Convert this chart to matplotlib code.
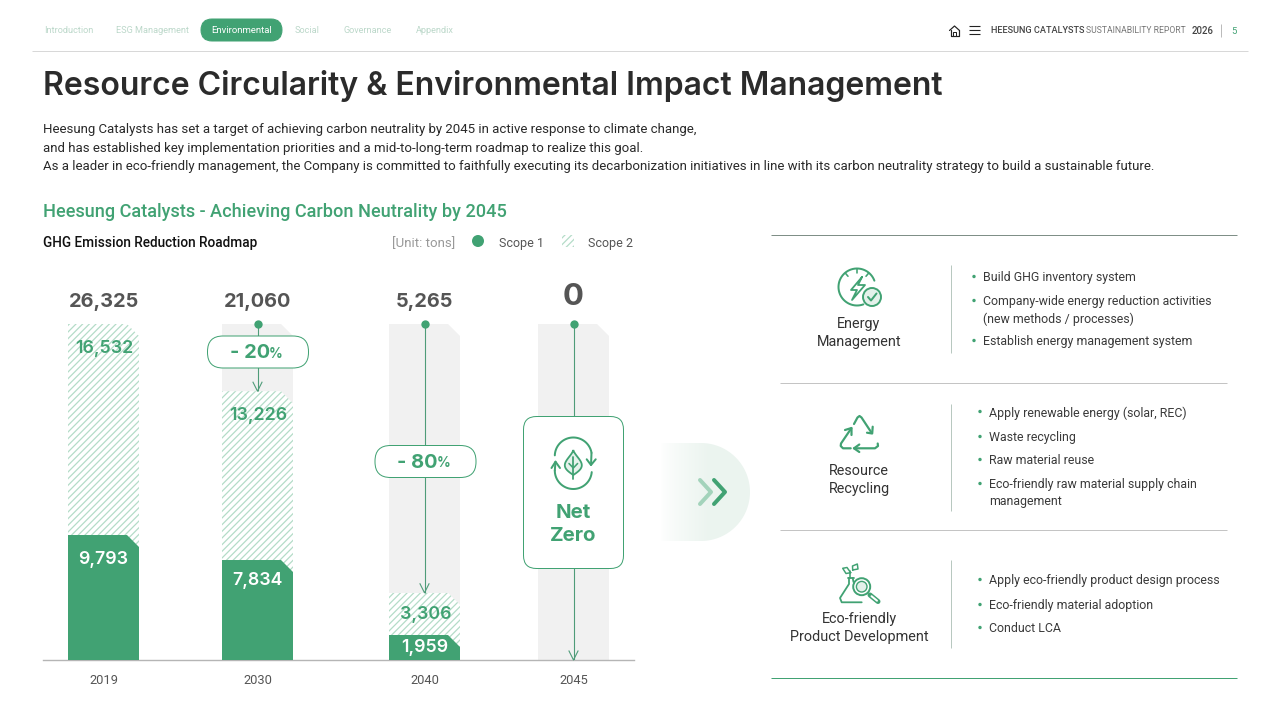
import numpy as np
import matplotlib
matplotlib.use('Agg')
import matplotlib.pyplot as plt
from matplotlib.patches import Polygon, FancyBboxPatch, Circle, Rectangle

# chart values
years = ['2019', '2030', '2040', '2045']
scope1 = [9793, 7834, 1959, 0]
scope2 = [16532, 13226, 3306, 0]
totals = [26325, 21060, 5265, 0]
reductions = [None, '- 20', '- 80', None]

nav_items = ['Introduction', 'ESG Management', 'Environmental', 'Social', 'Governance', 'Appendix']
intro_lines = [
    'Heesung Catalysts has set a target of achieving carbon neutrality by 2045 in active response to climate change,',
    'and has established key implementation priorities and a mid-to-long-term roadmap to realize this goal.',
    'As a leader in eco-friendly management, the Company is committed to faithfully executing its decarbonization initiatives in line with its carbon neutrality strategy to build a sustainable future.',
]
panel_titles = [['Energy', 'Management'], ['Resource', 'Recycling'], ['Eco-friendly', 'Product Development']]
panel_items = [
    [['Build GHG inventory system'],
     ['Company-wide energy reduction activities', '(new methods / processes)'],
     ['Establish energy management system']],
    [['Apply renewable energy (solar, REC)'],
     ['Waste recycling'],
     ['Raw material reuse'],
     ['Eco-friendly raw material supply chain', 'management']],
    [['Apply eco-friendly product design process'],
     ['Eco-friendly material adoption'],
     ['Conduct LCA']],
]

# layout, everything on the page is in pixels
GREEN = '#41a273'
LIGHT = '#b4dcc8'
DARK = '#2b2b2b'
NUM = 'Inter'
BODY = 'Roboto'
bar_x = [103.5, 257.5, 424.5, 573.5]
bar_w = 71
y_px = 336 / 26325  # pixels per ton
label_y_s2 = [347, 414, 613]
label_y_s1 = [558, 579, 646]
pill_y = [None, 352, 461.5, None]

plt.rcParams['font.family'] = [BODY, 'DejaVu Sans']
plt.rcParams['hatch.linewidth'] = 0.9

fig = plt.figure(figsize=(12.8, 7.2), dpi=100, facecolor='white')

# chart axes: x in page pixels, y in tons
ax = fig.add_axes([43 / 1280, (720 - 660) / 720, (634 - 43) / 1280, 336 / 720], zorder=1)
ax.set_xlim(43, 634)
ax.set_ylim(0, max(totals))
ax.patch.set_alpha(0)
for s in ['top', 'left', 'right']:
    ax.spines[s].set_visible(False)
ax.spines['bottom'].set_color('#b5b5b5')
ax.spines['bottom'].set_linewidth(1)
ax.set_yticks([])
ax.set_xticks(bar_x, years)
ax.tick_params(axis='x', length=0, pad=10, labelsize=9.3, labelcolor='#555555')


def cut_corner(bars, cut=12):
    # top right corner of every bar is chamfered
    for b in bars:
        x0, w, h0, h = b.get_x(), b.get_width(), b.get_y(), b.get_height()
        c = min(cut / y_px, h)
        top = h0 + h
        poly = Polygon([(x0, h0), (x0, top), (x0 + w - cut, top), (x0 + w, top - c), (x0 + w, h0)],
                       transform=ax.transData)
        b.set_clip_path(poly)


ceiling = [max(totals)] * len(years)
cut_corner(ax.bar(bar_x[1:], ceiling[1:], width=bar_w, color='#f1f1f1', linewidth=0, zorder=1))
stack = [a + b for a, b in zip(scope1, scope2)]
cut_corner(ax.bar(bar_x, stack, width=bar_w, facecolor='white', edgecolor=LIGHT, hatch='/////',
                  linewidth=0, zorder=2))
cut_corner(ax.bar(bar_x, scope1, width=bar_w, color=GREEN, linewidth=0, zorder=3))

# reduction lines from the 2019 level down to the year's total
for i in range(1, len(years)):
    ax.plot([bar_x[i], bar_x[i]], [ceiling[i], totals[i]], color='#4f9c79', lw=0.8, zorder=4,
            solid_capstyle='butt')
    ax.plot([bar_x[i]], [ceiling[i]], 'o', color=GREEN, ms=6, mew=0, zorder=5, clip_on=False)
    ax.plot([bar_x[i] - 4.5, bar_x[i], bar_x[i] + 4.5],
            [totals[i] + 9 / y_px, totals[i], totals[i] + 9 / y_px],
            color='#4f9c79', lw=0.8, zorder=4, clip_on=False)

# page overlay in pixels, y down
pg = fig.add_axes([0, 0, 1, 1], zorder=2)
pg.set_xlim(0, 1280)
pg.set_ylim(720, 0)
pg.axis('off')


def txt(x, y, s, size, color=DARK, weight='normal', ha='left', family=BODY, **kw):
    # size given in pixels
    kw.setdefault('zorder', 6)
    return pg.text(x, y - 0.7, s, fontsize=size * 0.72, color=color, fontweight=weight, ha=ha,
                   va='center_baseline', family=[family, 'DejaVu Sans'], **kw)


def line(xs, ys, color=GREEN, w=2, **kw):
    kw.setdefault('solid_capstyle', 'round')
    kw.setdefault('solid_joinstyle', 'round')
    kw.setdefault('zorder', 3)
    pg.plot(xs, ys, color=color, lw=w * 0.72, **kw)


def arc(cx, cy, r, a1, a2, color=GREEN, w=2):
    t = np.radians(np.linspace(a1, a2, 50))
    line(cx + r * np.cos(t), cy - r * np.sin(t), color, w)


def rbox(x0, y0, x1, y1, r, fc='white', ec=GREEN, w=1, z=2):
    pg.add_patch(FancyBboxPatch((x0, y0), x1 - x0, y1 - y0, boxstyle=f'round,pad=0,rounding_size={r}',
                                fc=fc, ec=ec, lw=w * 0.72, zorder=z))


# top navigation
line([32, 1248], [51, 51], '#d8d8d8', 1, solid_capstyle='butt')
rbox(201, 19, 282, 41, 11, fc=GREEN, ec=GREEN)
nav_x = [69, 153, 241.5, 307, 368, 435]
for name, x in zip(nav_items, nav_x):
    on = name == 'Environmental'
    txt(x, 30.5, name, 9.5 if on else 9.1, 'white' if on else '#bcd8ca', 'normal', 'center')

# home + menu icons
line([949.5, 954.5, 959.5], [30.5, 26, 30.5], '#222222', 1.2)
line([950.5, 950.5, 958.5, 958.5], [30, 35.5, 35.5, 30], '#222222', 1.2)
line([953, 953, 956, 956], [35.5, 32, 32, 35.5], '#222222', 1)
for y in [26, 30, 34]:
    line([969, 980], [y, y], '#222222', 1.1, solid_capstyle='butt')
txt(991, 30.5, 'HEESUNG CATALYSTS', 9.2, '#444444', 'medium')
txt(1086.5, 30.5, 'SUSTAINABILITY REPORT', 8.7, '#777777', 'normal')
txt(1191.5, 30.5, '2026', 9.6, '#444444', 'medium')
line([1221, 1221], [24, 37], '#bbbbbb', 1, solid_capstyle='butt')
txt(1234, 31, '5', 9.5, GREEN, 'normal', 'center')

# headings
txt(43, 83, 'Resource Circularity & Environmental Impact Management', 32, DARK, 'semibold', family=NUM)
for s, y in zip(intro_lines, [129, 147.5, 166]):
    txt(43, y, s, 13.3, '#2a2a2a')
txt(43, 210.5, 'Heesung Catalysts - Achieving Carbon Neutrality by 2045', 18.1, GREEN, 'medium')
txt(43, 242.5, 'GHG Emission Reduction Roadmap', 13.65, '#111111', 'medium')

# legend
txt(392, 242.5, '[Unit: tons]', 13.2, '#999999', 'normal')
pg.add_patch(Circle((478, 241), 6, fc=GREEN, ec='none'))
txt(499, 242.5, 'Scope 1', 12.5, '#555555', 'normal')
pg.add_patch(Rectangle((562, 235), 12, 12, fc='white', ec=LIGHT, hatch='/////', lw=0))
txt(588, 242.5, 'Scope 2', 12.5, '#555555', 'normal')

# value labels
for i in range(len(years)):
    if totals[i] == 0:
        txt(bar_x[i], 295, f'{totals[i]:,}', 31, '#555555', 'bold', 'center', family=NUM)
    else:
        txt(bar_x[i], 301, f'{totals[i]:,}', 20, '#555555', 'bold', 'center', family=NUM)
for i in range(3):
    txt(bar_x[i] + 1, label_y_s2[i], f'{scope2[i]:,}', 17.8, GREEN, 'semibold', 'center', family=NUM)
    txt(bar_x[i], label_y_s1[i], f'{scope1[i]:,}', 17.8, 'white', 'semibold', 'center', family=NUM)

# reduction pills
for i in range(len(years)):
    if reductions[i] is None:
        continue
    c = bar_x[i] + (0.5 if i == 1 else 1)
    rbox(c - 50.5, pill_y[i] - 16, c + 50.5, pill_y[i] + 16, 15.5)
    txt(c - 8, pill_y[i], reductions[i], 20, GREEN, 'bold', 'center', family=NUM)
    txt(c + 18, pill_y[i] + 1, '%', 13.5, GREEN, 'bold', 'center', family=NUM)

# net zero box
rbox(523.5, 416.5, 623.5, 568.5, 13)
arc(573.3, 456, 18.5, 178, 10)
line([591.5, 591], [453, 465], GREEN, 2)
line([586.7, 591, 595.7], [459.3, 465, 459.3], GREEN, 2)
arc(573.3, 470.5, 18.5, -5, -180)
line([554.8, 555.5], [470.5, 461.7], GREEN, 2)
line([551.5, 555.5, 560], [468, 461.7, 468], GREEN, 2)
t = np.linspace(0, 1, 40)
half = 8.5 * np.sin(np.pi * t ** 1.4)
lx = np.r_[573.3 - half, (573.3 + half)[::-1]]
ly = np.r_[450 + 25 * t, (450 + 25 * t)[::-1]]
pg.add_patch(Polygon(np.c_[lx, ly], fc='#e6f2ec', ec=GREEN, lw=1.3, zorder=5))
line([573.3, 573.3], [457, 478.5], GREEN, 1.8, zorder=6)
line([569, 573.3, 577.6], [463.5, 468, 463.5], GREEN, 1.6, zorder=6)
txt(573, 512, 'Net', 20.5, GREEN, 'bold', 'center', family=NUM)
txt(573, 535, 'Zero', 20.5, GREEN, 'bold', 'center', family=NUM)

# gradient arrow tab
grad = np.linspace(0, 1, 90) ** 0.8
cmap = matplotlib.colors.LinearSegmentedColormap.from_list('tab', ['#ffffff', '#ebf4ef'])
im = pg.imshow(np.tile(np.minimum(grad * 1.6, 1), (2, 1)), cmap=cmap, vmin=0, vmax=1,
               extent=(660, 750, 541, 443), aspect='auto', zorder=1)
a = np.radians(np.linspace(90, -90, 60))
tab = Polygon(np.r_[[(660, 443)], np.c_[701 + 49 * np.cos(a), 492 - 49 * np.sin(a)], [(660, 541)]],
              transform=pg.transData, fc='none', ec='none')
pg.add_patch(tab)
im.set_clip_path(tab)
pg.set_xlim(0, 1280)
pg.set_ylim(720, 0)
line([700, 711, 700], [480, 492, 504], '#a3d3bb', 4)
line([714, 725, 714], [480, 492, 504], GREEN, 4)

# right panel
line([771, 1237], [235, 235], '#7f8f87', 1, solid_capstyle='butt')
line([771, 1237], [678, 678], GREEN, 1, solid_capstyle='butt')
for y in [383, 530]:
    line([780, 1227], [y, y], '#c4c4c4', 1, solid_capstyle='butt')
for y0, y1 in [(265, 353), (404, 511), (560, 648)]:
    line([951, 951], [y0, y1], '#b8c8c0', 1, solid_capstyle='butt')

title_y = [(323, 341), (470, 488), (618, 636)]
for names, ys in zip(panel_titles, title_y):
    for s, y in zip(names, ys):
        txt(859, y, s, 14.4, '#333333', 'normal', 'center')

panel_dot_x = [974, 980, 980]
panel_y = [[[277], [301, 318], [341]],
           [[412], [437], [460], [484, 501]],
           [[580], [605], [628]]]
for items, ys, dx in zip(panel_items, panel_y, panel_dot_x):
    for rows, yy in zip(items, ys):
        pg.add_patch(Circle((dx, yy[0] - 0.5), 1.7, fc=GREEN, ec='none'))
        for s, y in zip(rows, yy):
            txt(dx + 9, y, s, 12.4, '#3a3a3a', 'normal')

# energy icon
arc(857, 287, 18.5, 20, 290)
for ang in [90, 130, 50]:
    r = np.radians(ang)
    line([857 + 18 * np.cos(r), 857 + 14 * np.cos(r)], [287 - 18 * np.sin(r), 287 - 14 * np.sin(r)], GREEN, 1.6)
line([862, 851, 857, 852, 865, 858, 862], [277, 290, 290, 300, 285, 285, 277], GREEN, 1.8)
pg.add_patch(Circle((872, 297), 9, fc='#e4f1ea', ec=GREEN, lw=1.4, zorder=4))
line([868, 871, 876.5], [297, 300.5, 293.5], GREEN, 2, zorder=5)

# recycle icon
line([854, 857.5, 859.5, 861.5, 871.7], [424, 417.5, 416, 417.5, 433], GREEN, 2.2)
line([867, 872.2, 872.7], [432.7, 433.5, 426.7], GREEN, 2.2)
line([877.7, 878, 875, 854], [443.5, 446, 448.3, 448.3], GREEN, 2.2)
line([859.3, 854, 859.3], [444.5, 448.3, 452], GREEN, 2.2)
line([850.7, 843, 840.7, 841, 851.3], [448.3, 448.3, 446, 443.5, 428.3], GREEN, 2.2)
line([845, 851.5, 851.5], [430, 428, 435], GREEN, 2.2)

# eco product icon
line([849, 849, 840, 841.7, 861.7], [578, 584, 598, 602.3, 602.3], GREEN, 1.8)
line([852.7, 853.5], [578, 582], GREEN, 1.8)
line([847.5, 854], [578, 578], GREEN, 1.8)
line([850, 850], [578, 571], GREEN, 1.6)
line([850.7, 846, 842.7, 847, 850.7], [572.7, 573.5, 568.3, 567.5, 572.7], GREEN, 1.5)
line([852.7, 852.5, 857.3, 858, 852.7], [570, 566, 564, 569, 570], GREEN, 1.5)
pg.add_patch(Circle((861.7, 586.7), 8.5, fc='white', ec=GREEN, lw=1.4, zorder=4))
pg.add_patch(Circle((861.7, 586.7), 5.3, fc='#e4f1ea', ec=GREEN, lw=1.0, zorder=5))
line([870, 878], [595, 601.5], GREEN, 5, zorder=4)
line([871.5, 877], [596.2, 600.7], 'white', 2, zorder=5)

fig.savefig('out.png', dpi=100)
